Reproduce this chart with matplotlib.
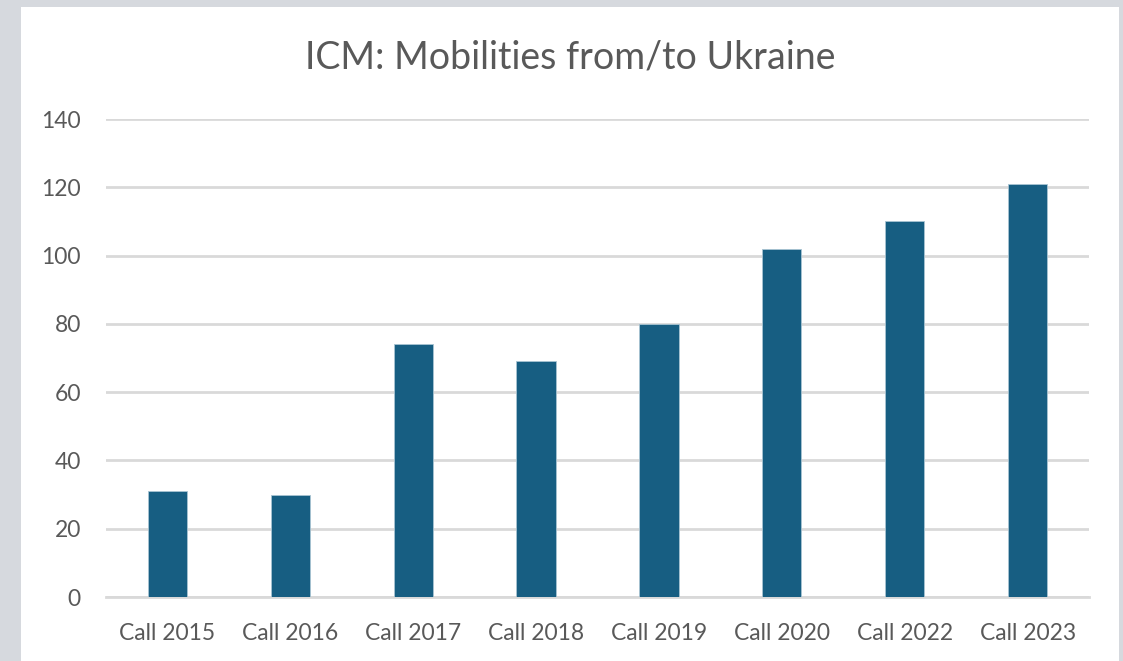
import matplotlib
matplotlib.use("Agg")
import matplotlib.pyplot as plt
from matplotlib.patches import Rectangle

calls = ["Call 2015", "Call 2016", "Call 2017", "Call 2018",
         "Call 2019", "Call 2020", "Call 2022", "Call 2023"]
mobilities = [31, 30, 74, 69, 80, 102, 110, 121]
yticks = [0, 20, 40, 60, 80, 100, 120, 140]

plt.rcParams['font.family'] = ['Lato', 'DejaVu Sans']

fig = plt.figure(figsize=(11.23, 6.61), dpi=100)
fig.patch.set_facecolor('#d6d9de')
# white chart area on the gray background
fig.patches.append(Rectangle((21 / 1123, 0), 1098 / 1123, 654 / 661,
                             transform=fig.transFigure, facecolor='white',
                             edgecolor='none', zorder=-10))

ax = fig.add_axes([106 / 1123, 64 / 661, 983 / 1123, 478 / 661])
ax.set_zorder(5)
ax.set_facecolor('none')
x = range(len(calls))
ax.bar(x, mobilities, width=0.32, color='#175e82', edgecolor='#a9c4d2',
       linewidth=0.6, zorder=3)

ax.set_xlim(-0.5, len(calls) - 0.5)
ax.set_ylim(0, 140)
ax.set_yticks(yticks)
ax.set_xticks(list(x))
ax.set_xticklabels(calls)
ax.yaxis.grid(True, color='#d9d9d9', linewidth=2, zorder=0)
ax.set_axisbelow(True)
for s in ['top', 'right', 'left']:
    ax.spines[s].set_visible(False)
ax.spines['bottom'].set_color('#d9d9d9')
ax.spines['bottom'].set_linewidth(2)
ax.tick_params(axis='both', length=0, labelsize=16.5, colors='#595959')
ax.tick_params(axis='y', pad=18)
ax.tick_params(axis='x', pad=19)

fig.text(570 / 1123, 1 - 57 / 661, "ICM: Mobilities from/to Ukraine",
         ha='center', va='center', fontsize=27, color='#595959', zorder=6)

fig.savefig("out.png", dpi=100, facecolor=fig.get_facecolor())
